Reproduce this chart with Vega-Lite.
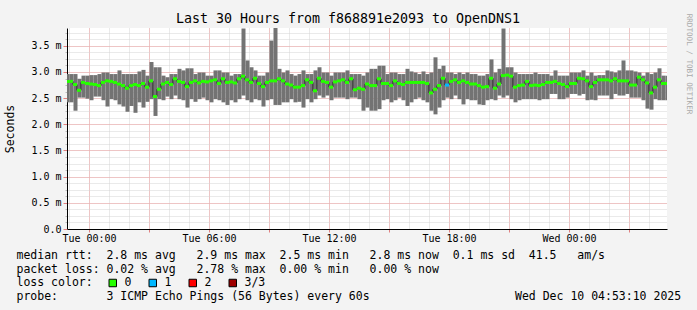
{
  "$schema": "https://vega.github.io/schema/vega-lite/v6.json",
  "autosize": {"type": "none"},
  "width": 600,
  "height": 201,
  "padding": {"left": 67, "top": 28, "right": 30, "bottom": 81},
  "background": "#f3f3f3",
  "config": {
    "view": {"stroke": null, "fill": "#ffffff"},
    "axis": {"labelFont": "DejaVu Sans Mono", "labelFontSize": 10, "labelColor": "#000000", "titleFont": "DejaVu Sans Mono", "titleFontWeight": "normal", "titleColor": "#000000"}
  },
  "title": {"text": "Last 30 Hours from f868891e2093 to OpenDNS1", "font": "DejaVu Sans Mono", "fontSize": 13.3, "fontWeight": "normal", "color": "#000000", "anchor": "middle", "frame": "group", "dx": -19, "dy": 26.5, "baseline": "alphabetic", "offset": 3.5},
  "data": {"values": [
    {"t":"2025-12-08T22:48Z","lo":2.42,"hi":2.96,"med":2.82,"loss":"0"},
    {"t":"2025-12-08T23:00Z","lo":2.42,"hi":2.96,"med":2.82,"loss":"0"},
    {"t":"2025-12-08T23:12Z","lo":2.26,"hi":2.96,"med":2.76,"loss":"0"},
    {"t":"2025-12-08T23:24Z","lo":2.51,"hi":2.87,"med":2.65,"loss":"0"},
    {"t":"2025-12-08T23:36Z","lo":2.51,"hi":2.93,"med":2.80,"loss":"0"},
    {"t":"2025-12-08T23:48Z","lo":2.49,"hi":2.93,"med":2.78,"loss":"0"},
    {"t":"2025-12-09T00:00Z","lo":2.46,"hi":2.94,"med":2.77,"loss":"0"},
    {"t":"2025-12-09T00:12Z","lo":2.53,"hi":2.94,"med":2.76,"loss":"0"},
    {"t":"2025-12-09T00:24Z","lo":2.53,"hi":2.96,"med":2.74,"loss":"0"},
    {"t":"2025-12-09T00:36Z","lo":2.46,"hi":2.99,"med":2.80,"loss":"0"},
    {"t":"2025-12-09T00:48Z","lo":2.34,"hi":2.99,"med":2.83,"loss":"0"},
    {"t":"2025-12-09T01:00Z","lo":2.48,"hi":2.96,"med":2.82,"loss":"0"},
    {"t":"2025-12-09T01:12Z","lo":2.46,"hi":2.96,"med":2.80,"loss":"0"},
    {"t":"2025-12-09T01:24Z","lo":2.38,"hi":3.03,"med":2.77,"loss":"0"},
    {"t":"2025-12-09T01:36Z","lo":2.34,"hi":2.96,"med":2.74,"loss":"0"},
    {"t":"2025-12-09T01:48Z","lo":2.24,"hi":2.96,"med":2.69,"loss":"0"},
    {"t":"2025-12-09T02:00Z","lo":2.35,"hi":2.96,"med":2.74,"loss":"0"},
    {"t":"2025-12-09T02:12Z","lo":2.22,"hi":2.96,"med":2.76,"loss":"0"},
    {"t":"2025-12-09T02:24Z","lo":2.42,"hi":3.01,"med":2.74,"loss":"0"},
    {"t":"2025-12-09T02:36Z","lo":2.32,"hi":3.04,"med":2.78,"loss":"0"},
    {"t":"2025-12-09T02:48Z","lo":2.43,"hi":2.93,"med":2.71,"loss":"0"},
    {"t":"2025-12-09T03:00Z","lo":2.48,"hi":3.19,"med":2.83,"loss":"0"},
    {"t":"2025-12-09T03:12Z","lo":2.16,"hi":3.09,"med":2.53,"loss":"0"},
    {"t":"2025-12-09T03:24Z","lo":2.48,"hi":3.09,"med":2.67,"loss":"0"},
    {"t":"2025-12-09T03:36Z","lo":2.46,"hi":2.93,"med":2.77,"loss":"0"},
    {"t":"2025-12-09T03:48Z","lo":2.53,"hi":2.90,"med":2.80,"loss":"0"},
    {"t":"2025-12-09T04:00Z","lo":2.48,"hi":2.96,"med":2.76,"loss":"0"},
    {"t":"2025-12-09T04:12Z","lo":2.55,"hi":2.96,"med":2.87,"loss":"0"},
    {"t":"2025-12-09T04:24Z","lo":2.48,"hi":3.06,"med":2.82,"loss":"0"},
    {"t":"2025-12-09T04:36Z","lo":2.46,"hi":3.03,"med":2.80,"loss":"0"},
    {"t":"2025-12-09T04:48Z","lo":2.32,"hi":3.07,"med":2.72,"loss":"0"},
    {"t":"2025-12-09T05:00Z","lo":2.48,"hi":3.07,"med":2.80,"loss":"0"},
    {"t":"2025-12-09T05:12Z","lo":2.43,"hi":2.96,"med":2.83,"loss":"0"},
    {"t":"2025-12-09T05:24Z","lo":2.48,"hi":2.99,"med":2.79,"loss":"0"},
    {"t":"2025-12-09T05:36Z","lo":2.51,"hi":2.99,"med":2.82,"loss":"0"},
    {"t":"2025-12-09T05:48Z","lo":2.46,"hi":2.93,"med":2.81,"loss":"0"},
    {"t":"2025-12-09T06:00Z","lo":2.42,"hi":2.93,"med":2.83,"loss":"0"},
    {"t":"2025-12-09T06:12Z","lo":2.48,"hi":3.03,"med":2.85,"loss":"0"},
    {"t":"2025-12-09T06:24Z","lo":2.46,"hi":3.03,"med":2.78,"loss":"0"},
    {"t":"2025-12-09T06:36Z","lo":2.42,"hi":2.99,"med":2.87,"loss":"0"},
    {"t":"2025-12-09T06:48Z","lo":2.37,"hi":2.99,"med":2.80,"loss":"0"},
    {"t":"2025-12-09T07:00Z","lo":2.46,"hi":2.93,"med":2.81,"loss":"0"},
    {"t":"2025-12-09T07:12Z","lo":2.42,"hi":2.96,"med":2.79,"loss":"0"},
    {"t":"2025-12-09T07:24Z","lo":2.48,"hi":2.96,"med":2.87,"loss":"0"},
    {"t":"2025-12-09T07:36Z","lo":2.55,"hi":3.83,"med":2.92,"loss":"0"},
    {"t":"2025-12-09T07:48Z","lo":2.46,"hi":3.22,"med":2.85,"loss":"0"},
    {"t":"2025-12-09T08:00Z","lo":2.42,"hi":3.09,"med":2.80,"loss":"0"},
    {"t":"2025-12-09T08:12Z","lo":2.48,"hi":3.03,"med":2.88,"loss":"0"},
    {"t":"2025-12-09T08:24Z","lo":2.46,"hi":2.93,"med":2.78,"loss":"0"},
    {"t":"2025-12-09T08:36Z","lo":2.34,"hi":2.93,"med":2.72,"loss":"0"},
    {"t":"2025-12-09T08:48Z","lo":2.46,"hi":2.99,"med":2.80,"loss":"0"},
    {"t":"2025-12-09T09:00Z","lo":2.48,"hi":3.60,"med":2.83,"loss":"0"},
    {"t":"2025-12-09T09:12Z","lo":2.37,"hi":3.86,"med":2.83,"loss":"0"},
    {"t":"2025-12-09T09:24Z","lo":2.37,"hi":3.06,"med":2.87,"loss":"0"},
    {"t":"2025-12-09T09:36Z","lo":2.42,"hi":2.99,"med":2.83,"loss":"0"},
    {"t":"2025-12-09T09:48Z","lo":2.42,"hi":3.03,"med":2.77,"loss":"0"},
    {"t":"2025-12-09T10:00Z","lo":2.48,"hi":2.96,"med":2.75,"loss":"0"},
    {"t":"2025-12-09T10:12Z","lo":2.42,"hi":2.93,"med":2.71,"loss":"0"},
    {"t":"2025-12-09T10:24Z","lo":2.43,"hi":2.96,"med":2.71,"loss":"0"},
    {"t":"2025-12-09T10:36Z","lo":2.32,"hi":3.03,"med":2.74,"loss":"0"},
    {"t":"2025-12-09T10:48Z","lo":2.48,"hi":2.96,"med":2.85,"loss":"0"},
    {"t":"2025-12-09T11:00Z","lo":2.42,"hi":2.96,"med":2.80,"loss":"0"},
    {"t":"2025-12-09T11:12Z","lo":2.48,"hi":3.03,"med":2.64,"loss":"0"},
    {"t":"2025-12-09T11:24Z","lo":2.55,"hi":3.09,"med":2.88,"loss":"0"},
    {"t":"2025-12-09T11:36Z","lo":2.51,"hi":2.99,"med":2.82,"loss":"0"},
    {"t":"2025-12-09T11:48Z","lo":2.55,"hi":2.99,"med":2.80,"loss":"0"},
    {"t":"2025-12-09T12:00Z","lo":2.46,"hi":2.93,"med":2.71,"loss":"0"},
    {"t":"2025-12-09T12:12Z","lo":2.51,"hi":2.99,"med":2.81,"loss":"0"},
    {"t":"2025-12-09T12:24Z","lo":2.51,"hi":2.99,"med":2.83,"loss":"0"},
    {"t":"2025-12-09T12:36Z","lo":2.51,"hi":2.99,"med":2.85,"loss":"0"},
    {"t":"2025-12-09T12:48Z","lo":2.48,"hi":3.03,"med":2.80,"loss":"0"},
    {"t":"2025-12-09T13:00Z","lo":2.51,"hi":2.96,"med":2.87,"loss":"0"},
    {"t":"2025-12-09T13:12Z","lo":2.51,"hi":2.96,"med":2.66,"loss":"0"},
    {"t":"2025-12-09T13:24Z","lo":2.48,"hi":2.96,"med":2.69,"loss":"0"},
    {"t":"2025-12-09T13:36Z","lo":2.26,"hi":2.93,"med":2.67,"loss":"0"},
    {"t":"2025-12-09T13:48Z","lo":2.32,"hi":2.99,"med":2.77,"loss":"0"},
    {"t":"2025-12-09T14:00Z","lo":2.26,"hi":3.06,"med":2.74,"loss":"0"},
    {"t":"2025-12-09T14:12Z","lo":2.26,"hi":3.06,"med":2.74,"loss":"0"},
    {"t":"2025-12-09T14:24Z","lo":2.29,"hi":3.12,"med":2.87,"loss":"0"},
    {"t":"2025-12-09T14:36Z","lo":2.46,"hi":3.12,"med":2.78,"loss":"0"},
    {"t":"2025-12-09T14:48Z","lo":2.48,"hi":2.96,"med":2.78,"loss":"0"},
    {"t":"2025-12-09T15:00Z","lo":2.42,"hi":2.99,"med":2.74,"loss":"0"},
    {"t":"2025-12-09T15:12Z","lo":2.46,"hi":2.99,"med":2.83,"loss":"0"},
    {"t":"2025-12-09T15:24Z","lo":2.51,"hi":2.96,"med":2.78,"loss":"0"},
    {"t":"2025-12-09T15:36Z","lo":2.46,"hi":2.96,"med":2.76,"loss":"0"},
    {"t":"2025-12-09T15:48Z","lo":2.35,"hi":3.06,"med":2.80,"loss":"0"},
    {"t":"2025-12-09T16:00Z","lo":2.42,"hi":3.01,"med":2.80,"loss":"0"},
    {"t":"2025-12-09T16:12Z","lo":2.48,"hi":2.99,"med":2.80,"loss":"0"},
    {"t":"2025-12-09T16:24Z","lo":2.51,"hi":2.96,"med":2.80,"loss":"0"},
    {"t":"2025-12-09T16:36Z","lo":2.46,"hi":3.01,"med":2.80,"loss":"0"},
    {"t":"2025-12-09T16:48Z","lo":2.42,"hi":2.96,"med":2.78,"loss":"0"},
    {"t":"2025-12-09T17:00Z","lo":2.26,"hi":2.99,"med":2.60,"loss":"0"},
    {"t":"2025-12-09T17:12Z","lo":2.19,"hi":3.28,"med":2.67,"loss":"0"},
    {"t":"2025-12-09T17:24Z","lo":2.32,"hi":3.06,"med":2.74,"loss":"0"},
    {"t":"2025-12-09T17:36Z","lo":2.46,"hi":3.12,"med":2.88,"loss":"0"},
    {"t":"2025-12-09T17:48Z","lo":2.51,"hi":2.99,"med":2.75,"loss":"1"},
    {"t":"2025-12-09T18:00Z","lo":2.48,"hi":2.99,"med":2.82,"loss":"0"},
    {"t":"2025-12-09T18:12Z","lo":2.55,"hi":2.96,"med":2.85,"loss":"0"},
    {"t":"2025-12-09T18:24Z","lo":2.48,"hi":2.99,"med":2.80,"loss":"0"},
    {"t":"2025-12-09T18:36Z","lo":2.38,"hi":2.96,"med":2.83,"loss":"0"},
    {"t":"2025-12-09T18:48Z","lo":2.48,"hi":2.99,"med":2.80,"loss":"0"},
    {"t":"2025-12-09T19:00Z","lo":2.46,"hi":2.96,"med":2.77,"loss":"0"},
    {"t":"2025-12-09T19:12Z","lo":2.46,"hi":2.96,"med":2.77,"loss":"0"},
    {"t":"2025-12-09T19:24Z","lo":2.38,"hi":2.93,"med":2.74,"loss":"0"},
    {"t":"2025-12-09T19:36Z","lo":2.37,"hi":2.93,"med":2.71,"loss":"0"},
    {"t":"2025-12-09T19:48Z","lo":2.46,"hi":2.96,"med":2.72,"loss":"0"},
    {"t":"2025-12-09T20:00Z","lo":2.48,"hi":3.24,"med":2.88,"loss":"0"},
    {"t":"2025-12-09T20:12Z","lo":2.46,"hi":2.99,"med":2.69,"loss":"0"},
    {"t":"2025-12-09T20:24Z","lo":2.55,"hi":3.06,"med":2.77,"loss":"0"},
    {"t":"2025-12-09T20:36Z","lo":2.51,"hi":3.83,"med":2.93,"loss":"0"},
    {"t":"2025-12-09T20:48Z","lo":2.55,"hi":3.09,"med":2.94,"loss":"0"},
    {"t":"2025-12-09T21:00Z","lo":2.48,"hi":3.09,"med":2.92,"loss":"0"},
    {"t":"2025-12-09T21:12Z","lo":2.42,"hi":2.99,"med":2.71,"loss":"0"},
    {"t":"2025-12-09T21:24Z","lo":2.46,"hi":2.96,"med":2.74,"loss":"0"},
    {"t":"2025-12-09T21:36Z","lo":2.48,"hi":2.96,"med":2.75,"loss":"0"},
    {"t":"2025-12-09T21:48Z","lo":2.48,"hi":2.96,"med":2.82,"loss":"0"},
    {"t":"2025-12-09T22:00Z","lo":2.48,"hi":2.96,"med":2.74,"loss":"0"},
    {"t":"2025-12-09T22:12Z","lo":2.48,"hi":2.99,"med":2.75,"loss":"0"},
    {"t":"2025-12-09T22:24Z","lo":2.46,"hi":2.96,"med":2.74,"loss":"0"},
    {"t":"2025-12-09T22:36Z","lo":2.48,"hi":2.96,"med":2.76,"loss":"0"},
    {"t":"2025-12-09T22:48Z","lo":2.48,"hi":2.96,"med":2.80,"loss":"0"},
    {"t":"2025-12-09T23:00Z","lo":2.58,"hi":2.93,"med":2.80,"loss":"0"},
    {"t":"2025-12-09T23:12Z","lo":2.58,"hi":3.03,"med":2.82,"loss":"0"},
    {"t":"2025-12-09T23:24Z","lo":2.48,"hi":2.93,"med":2.78,"loss":"0"},
    {"t":"2025-12-09T23:36Z","lo":2.48,"hi":2.93,"med":2.76,"loss":"0"},
    {"t":"2025-12-09T23:48Z","lo":2.51,"hi":2.93,"med":2.72,"loss":"0"},
    {"t":"2025-12-10T00:00Z","lo":2.58,"hi":2.99,"med":2.78,"loss":"0"},
    {"t":"2025-12-10T00:12Z","lo":2.58,"hi":2.99,"med":2.78,"loss":"0"},
    {"t":"2025-12-10T00:24Z","lo":2.55,"hi":2.99,"med":2.88,"loss":"0"},
    {"t":"2025-12-10T00:36Z","lo":2.58,"hi":3.03,"med":2.87,"loss":"0"},
    {"t":"2025-12-10T00:48Z","lo":2.46,"hi":2.93,"med":2.83,"loss":"0"},
    {"t":"2025-12-10T01:00Z","lo":2.47,"hi":2.99,"med":2.72,"loss":"0"},
    {"t":"2025-12-10T01:12Z","lo":2.46,"hi":2.93,"med":2.80,"loss":"0"},
    {"t":"2025-12-10T01:24Z","lo":2.55,"hi":2.94,"med":2.85,"loss":"0"},
    {"t":"2025-12-10T01:36Z","lo":2.55,"hi":2.94,"med":2.85,"loss":"0"},
    {"t":"2025-12-10T01:48Z","lo":2.55,"hi":3.03,"med":2.85,"loss":"0"},
    {"t":"2025-12-10T02:00Z","lo":2.48,"hi":3.01,"med":2.83,"loss":"0"},
    {"t":"2025-12-10T02:12Z","lo":2.58,"hi":2.99,"med":2.87,"loss":"0"},
    {"t":"2025-12-10T02:24Z","lo":2.55,"hi":3.03,"med":2.83,"loss":"0"},
    {"t":"2025-12-10T02:36Z","lo":2.55,"hi":3.22,"med":2.83,"loss":"0"},
    {"t":"2025-12-10T02:48Z","lo":2.58,"hi":3.03,"med":2.83,"loss":"0"},
    {"t":"2025-12-10T03:00Z","lo":2.51,"hi":3.03,"med":2.75,"loss":"0"},
    {"t":"2025-12-10T03:12Z","lo":2.51,"hi":3.01,"med":2.75,"loss":"0"},
    {"t":"2025-12-10T03:24Z","lo":2.51,"hi":2.99,"med":2.90,"loss":"0"},
    {"t":"2025-12-10T03:36Z","lo":2.46,"hi":2.93,"med":2.85,"loss":"0"},
    {"t":"2025-12-10T03:48Z","lo":2.30,"hi":2.99,"med":2.79,"loss":"0"},
    {"t":"2025-12-10T04:00Z","lo":2.28,"hi":2.96,"med":2.60,"loss":"0"},
    {"t":"2025-12-10T04:12Z","lo":2.48,"hi":2.99,"med":2.71,"loss":"0"},
    {"t":"2025-12-10T04:24Z","lo":2.46,"hi":3.07,"med":2.85,"loss":"0"},
    {"t":"2025-12-10T04:36Z","lo":2.46,"hi":2.93,"med":2.78,"loss":"0"},
    {"t":"2025-12-10T04:48Z","lo":2.46,"hi":2.93,"med":2.78,"loss":"0"}
  ]},
  "resolve": {"axis": {"x": "independent", "y": "independent"}},
  "layer": [
    {
      "mark": {"type": "bar", "color": "#737373", "binSpacing": 0, "clip": true},
      "encoding": {
        "x": {"field": "t", "type": "temporal", "timeUnit": {"unit": "utcyearmonthdatehoursminutes", "step": 12},
          "scale": {"type": "utc", "nice": false, "domain": [1765234440000, 1765342440000]},
          "axis": {"orient": "bottom", "values": [1765234800000, 1765238400000, 1765242000000, 1765245600000, 1765249200000, 1765252800000, 1765256400000, 1765260000000, 1765263600000, 1765267200000, 1765270800000, 1765274400000, 1765278000000, 1765281600000, 1765285200000, 1765288800000, 1765292400000, 1765296000000, 1765299600000, 1765303200000, 1765306800000, 1765310400000, 1765314000000, 1765317600000, 1765321200000, 1765324800000, 1765328400000, 1765332000000, 1765335600000, 1765339200000], "grid": true, "gridColor": "#d4d4d4", "gridDash": [1, 1], "labels": false, "ticks": false, "domain": false, "title": null}},
        "y": {"field": "lo", "type": "quantitative", "scale": {"domain": [0, 3.84], "nice": false, "zero": true},
          "axis": {"orient": "left", "values": [0, 0.125, 0.25, 0.375, 0.5, 0.625, 0.75, 0.875, 1, 1.125, 1.25, 1.375, 1.5, 1.625, 1.75, 1.875, 2, 2.125, 2.25, 2.375, 2.5, 2.625, 2.75, 2.875, 3, 3.125, 3.25, 3.375, 3.5, 3.625, 3.75], "grid": true, "gridColor": "#d4d4d4", "gridDash": [1, 1], "labels": false, "ticks": true, "tickSize": 2, "tickColor": "#bbbbbb", "domain": false, "title": null}},
        "y2": {"field": "hi"}
      }
    },
    {
      "mark": {"type": "line", "interpolate": "step-after", "color": "#202020", "strokeWidth": 1, "clip": true},
      "encoding": {
        "x": {"field": "t", "type": "temporal",
          "scale": {"type": "utc", "nice": false, "domain": [1765234440000, 1765342440000]},
          "axis": {"orient": "bottom", "values": [1765238400000, 1765249200000, 1765260000000, 1765270800000, 1765281600000, 1765292400000, 1765303200000, 1765314000000, 1765324800000, 1765335600000], "grid": true, "gridColor": "#f2a0a0", "gridDash": [1, 1], "labels": false, "ticks": true, "tickSize": 3, "tickColor": "#e08080", "domain": false, "title": null}},
        "y": {"field": "med", "type": "quantitative", "scale": {"domain": [0, 3.84], "nice": false, "zero": true},
          "axis": {"orient": "left", "values": [0, 0.5, 1, 1.5, 2, 2.5, 3, 3.5], "grid": true, "gridColor": "#f2a0a0", "gridDash": [1, 1], "ticks": true, "tickSize": 4, "tickColor": "#e08080", "labelPadding": 2, "labelExpr": "datum.value == 0 ? '0.0' : format(datum.value, '.1f') + ' m'", "domain": true, "domainColor": "#000000", "title": "Seconds", "titleFontSize": 11.5, "titleAngle": 270, "titleX": -56.5, "titleY": 100.5, "titleAlign": "center", "titleBaseline": "middle"}}
      }
    },
    {
      "mark": {"type": "tick", "orient": "horizontal", "size": 4, "thickness": 3, "opacity": 1, "clip": true},
      "encoding": {
        "x": {"field": "t", "type": "temporal", "timeUnit": {"unit": "utcyearmonthdatehoursminutes", "step": 12}, "bandPosition": 0.5,
          "scale": {"type": "utc", "nice": false, "domain": [1765234440000, 1765342440000]},
          "axis": {"orient": "bottom", "values": [1765238400000, 1765260000000, 1765281600000, 1765303200000, 1765324800000], "format": "%a %H:%M", "grid": false, "ticks": false, "tickSize": 0, "labelPadding": 12.5, "labelBaseline": "alphabetic", "labelOverlap": false, "labelFlush": false, "domain": true, "domainColor": "#000000",
            "title": ["median rtt:\u00a0\u00a02.8 ms avg\u00a0\u00a0\u00a02.9 ms max\u00a0\u00a02.5 ms min\u00a0\u00a0\u00a02.8 ms now\u00a0\u00a00.1 ms sd\u00a0\u00a041.5\u00a0\u00a0\u00a0am/s", "packet loss:\u00a00.02 % avg\u00a0\u00a0\u00a02.78 % max\u00a0\u00a00.00 % min\u00a0\u00a0\u00a00.00 % now", "loss color:", "probe:\u00a0\u00a0\u00a0\u00a0\u00a0\u00a0\u00a03 ICMP Echo Pings (56 Bytes) every 60s\u00a0\u00a0\u00a0\u00a0\u00a0\u00a0\u00a0\u00a0\u00a0\u00a0\u00a0\u00a0\u00a0\u00a0\u00a0\u00a0\u00a0\u00a0\u00a0\u00a0\u00a0Wed Dec 10 04:53:10 2025"],
            "titleFontSize": 11.5, "titleLineHeight": 13.7, "titleX": -51, "titleY": 29.5, "titleAlign": "left", "titleBaseline": "alphabetic", "titleAnchor": "start"}},
        "y": {"field": "med", "type": "quantitative", "scale": {"domain": [0, 3.84], "nice": false, "zero": true},
          "axis": {"orient": "right", "labels": false, "ticks": false, "grid": false, "domain": false, "title": "RRDTOOL / TOBI OETIKER", "titleFontSize": 7.6, "titleColor": "#aaaaaa", "titleAngle": 90, "titleX": 21, "titleY": 35.5, "titleAlign": "center", "titleBaseline": "middle"}},
        "color": {"field": "loss", "type": "nominal",
          "scale": {"domain": ["0", "1", "2", "3/3"], "range": ["#26ff00", "#00b8ff", "#ff0000", "#a00000"]},
          "legend": {"orient": "none", "legendX": 40, "legendY": 249, "direction": "horizontal", "title": null, "symbolType": "square", "symbolSize": 56, "symbolStrokeColor": "#000000", "symbolStrokeWidth": 1, "symbolOpacity": 1, "labelFont": "DejaVu Sans Mono", "labelFontSize": 11.5, "labelColor": "#000000", "labelOffset": 6, "columnPadding": 15, "padding": 0}}
      }
    }
  ]
}
